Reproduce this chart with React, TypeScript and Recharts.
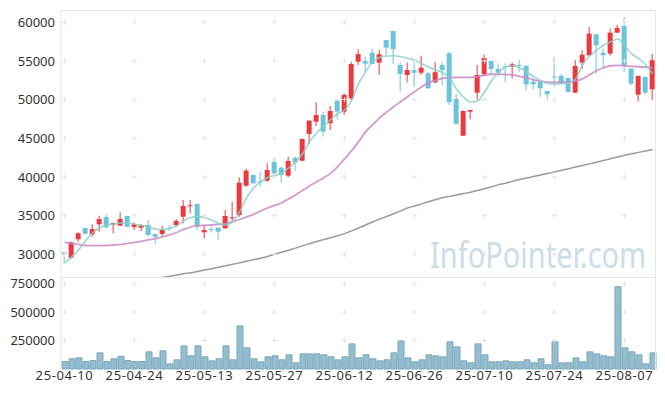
import React from "react"
import { ComposedChart, Bar, Line, XAxis, YAxis, ReferenceDot } from "recharts"

// trading days (KRX), 25-04-10 .. 25-08-13
const dates = [
  "25-04-10", "25-04-11", "25-04-14", "25-04-15", "25-04-16", "25-04-17", "25-04-18", "25-04-21", "25-04-22", "25-04-23",
  "25-04-24", "25-04-25", "25-04-28", "25-04-29", "25-04-30", "25-05-02", "25-05-07", "25-05-08", "25-05-09", "25-05-12",
  "25-05-13", "25-05-14", "25-05-15", "25-05-16", "25-05-19", "25-05-20", "25-05-21", "25-05-22", "25-05-23", "25-05-26",
  "25-05-27", "25-05-28", "25-05-29", "25-05-30", "25-06-02", "25-06-04", "25-06-05", "25-06-09", "25-06-10", "25-06-11",
  "25-06-12", "25-06-13", "25-06-16", "25-06-17", "25-06-18", "25-06-19", "25-06-20", "25-06-23", "25-06-24", "25-06-25",
  "25-06-26", "25-06-27", "25-06-30", "25-07-01", "25-07-02", "25-07-03", "25-07-04", "25-07-07", "25-07-08", "25-07-09",
  "25-07-10", "25-07-11", "25-07-14", "25-07-15", "25-07-16", "25-07-17", "25-07-18", "25-07-21", "25-07-22", "25-07-23",
  "25-07-24", "25-07-25", "25-07-28", "25-07-29", "25-07-30", "25-07-31", "25-08-01", "25-08-04", "25-08-05", "25-08-06",
  "25-08-07", "25-08-08", "25-08-11", "25-08-12", "25-08-13",
]

const opens = [
  30250, 29560, 31950, 33400, 32590, 33880, 34820, 33830, 33700, 34950,
  33530, 33440, 33790, 32630, 32630, 33400, 33790, 34860, 36300, 36500,
  32850, 33250, 33440, 33360, 34750, 35080, 38870, 40260, 39420, 39520,
  41940, 41200, 40170, 42490, 42100, 45560, 47150, 48010, 46940, 49860,
  48440, 50170, 54900, 55000, 56070, 54780, 57710, 58880, 54480, 53190,
  53830, 53480, 53400, 52240, 54480, 55990, 50080, 45340, 48440, 50900,
  53280, 55000, 53960, 54300, 54260, 54500, 54390, 52320, 52320, 51120,
  52990, 53060, 52800, 50900, 54780, 55730, 58450, 56070, 55940, 58660,
  59520, 54000, 50640, 52930, 51340,
]
const highs = [
  30260, 31650, 32850, 33420, 33880, 34990, 35170, 34100, 35430, 34980,
  34140, 33900, 34440, 32650, 33660, 33750, 34570, 37020, 37020, 36550,
  33660, 33570, 33460, 35730, 36800, 39960, 41070, 40300, 40680, 41770,
  42420, 41300, 42620, 42600, 45000, 47350, 49660, 48440, 49180, 49950,
  50820, 54910, 56510, 55550, 56550, 56420, 57750, 58910, 54830, 54830,
  54830, 55680, 53610, 54830, 54830, 56200, 50730, 48600, 48700, 54480,
  55810, 55020, 54700, 54700, 54780, 55130, 54400, 52760, 52330, 51130,
  55500, 53350, 52810, 55090, 56380, 59390, 58460, 56590, 59170, 59690,
  60690, 54050, 53100, 53000, 55940,
]
const lows = [
  28850, 29450, 31630, 32550, 32280, 32930, 33360, 32720, 33650, 33500,
  33140, 33010, 32280, 31300, 32280, 33010, 33660, 34010, 35300, 33140,
  32070, 32800, 31850, 33300, 34220, 34860, 38740, 39100, 38740, 39390,
  39960, 39260, 39960, 40810, 42050, 44260, 46590, 45210, 46070, 47460,
  48010, 49950, 54480, 53610, 54600, 53190, 55550, 54570, 51030, 52240,
  51670, 53190, 51400, 52110, 51890, 49310, 46800, 45300, 47460, 50000,
  53060, 53190, 53060, 52240, 52760, 53610, 51250, 51340, 50380, 50040,
  51700, 52060, 50900, 50850, 54000, 55700, 53350, 54090, 55700, 58650,
  53570, 51900, 49790, 50640, 49920,
]
const closes = [
  30050, 31550, 32720, 32670, 33270, 34570, 33490, 34050, 34570, 33570,
  33880, 33790, 32500, 32240, 33140, 33360, 34310, 36250, 36340, 33570,
  33140, 33200, 32930, 34950, 34790, 39260, 40810, 39180, 39380, 40900,
  40480, 40260, 42070, 41850, 44910, 47280, 48010, 45860, 48530, 48440,
  50600, 54610, 55900, 54650, 54610, 55860, 56720, 56510, 53320, 53830,
  53480, 54130, 51470, 53540, 53830, 49660, 46850, 48530, 48660, 53190,
  55380, 53960, 53480, 54250, 54570, 54450, 51980, 51980, 51470, 50690,
  52960, 52190, 50990, 54350, 55810, 58530, 57030, 55730, 58660, 59260,
  54440, 52060, 53060, 50900, 55090,
]
const volumes = [
  65800, 89500, 98200, 65800, 74600, 142000, 65800, 89500, 112300, 74600,
  65800, 65800, 150900, 98200, 159600, 45600, 80700, 203500, 115800, 203500,
  107000, 71900, 89500, 203500, 80700, 379000, 186000, 89500, 63200, 107000,
  115800, 80700, 124600, 54400, 133300, 133300, 133300, 124600, 107000, 80700,
  107000, 221000, 98200, 124600, 89500, 71900, 80700, 142000, 247000, 98200,
  63200, 80700, 124600, 115800, 107000, 238600, 194700, 71900, 54400, 221000,
  124600, 63200, 63200, 71900, 63200, 63200, 80700, 54400, 89500, 36800,
  238600, 54400, 54400, 98200, 63200, 150900, 133300, 115800, 107000, 723700,
  186000, 150900, 124600, 45600, 142000,
]
const ma5 = [
  28870, 29650, 30550, 31720, 32750, 33400, 33790, 33920, 34050, 34050,
  33920, 33720, 33530, 33270, 33200, 33340, 33660, 34310, 34760, 34870,
  34760, 34440, 34010, 33790, 34180, 35470, 37280, 38570, 39350, 39930,
  40190, 40450, 41160, 41940, 42970, 44530, 45690, 46590, 47370, 48140,
  48660, 49830, 52030, 53570, 54870, 55450, 55640, 55680, 55580, 55320,
  55120, 54670, 54220, 53830, 53510, 52800, 51370, 50340, 49700, 49830,
  50990, 52410, 53570, 54220, 54390, 54150, 53570, 52990, 52470, 52090,
  52020, 52060, 52190, 52670, 54480, 55640, 56380, 57030, 57450, 57840,
  57070, 55940, 55320, 54540, 53350,
]
const ma20 = [
  31550, 31400, 31270, 31140, 31110, 31110, 31140, 31200, 31270, 31400,
  31530, 31680, 31850, 32040, 32240, 32500, 32820, 33210, 33530, 33700,
  33750, 33790, 33860, 33980, 34180, 34500, 34830, 35150, 35600, 35990,
  36320, 36640, 37160, 37680, 38260, 38840, 39360, 39880, 40460, 41300,
  42340, 43370, 44540, 45830, 46740, 47640, 48360, 49070, 49720, 50360,
  51010, 51650, 52170, 52500, 52760, 52850, 52890, 52890, 52890, 52950,
  53150, 53280, 53300, 53250, 53190, 53020, 52830, 52570, 52400, 52270,
  52240, 52240, 52280, 52430, 52690, 53210, 53730, 54120, 54380, 54440,
  54380, 54310, 54250, 54190, 54120,
]
const ma120 = [
  24870, 25025, 25180, 25335, 25490, 25645, 25800, 25955, 26110, 26265,
  26420, 26560, 26715, 26860, 27015, 27170, 27310, 27470, 27610, 27780,
  27960, 28140, 28330, 28510, 28700, 28890, 29100, 29300, 29500, 29720,
  29990, 30260, 30530, 30800, 31090, 31370, 31650, 31900, 32150, 32390,
  32670, 33030, 33400, 33790, 34180, 34540, 34890, 35250, 35610, 35980,
  36250, 36520, 36790, 37060, 37310, 37490, 37670, 37850, 38030, 38240,
  38480, 38730, 38980, 39200, 39430, 39660, 39870, 40060, 40260, 40450,
  40660, 40870, 41070, 41280, 41480, 41690, 41910, 42130, 42360, 42580,
  42800, 43000, 43180, 43370, 43550,
]

const tickDates = ["25-04-10", "25-04-24", "25-05-13", "25-05-27", "25-06-12", "25-06-26", "25-07-10", "25-07-24", "25-08-07"]
const priceTicks = [30000, 35000, 40000, 45000, 50000, 55000, 60000]
const volumeTicks = [250000, 500000, 750000]

const rows = dates.map((date, i) => ({
  date,
  open: opens[i],
  high: highs[i],
  low: lows[i],
  close: closes[i],
  range: [lows[i], highs[i]],
  volume: volumes[i],
  ma5: ma5[i],
  ma20: ma20[i],
  ma120: ma120[i],
}))

const UP = "#ea3a3f"
const DOWN = "#6cc3da"
const FONT = "'Noto Sans', sans-serif"
const yTick = { fill: "#333", fontSize: 13, fontFamily: FONT }
const xTick = { fill: "#333", fontSize: 13, fontFamily: FONT, letterSpacing: 0.6 }

function Candle(props: any) {
  const { x, y, width, height, payload } = props
  const { open, close, high, low } = payload
  const color = close >= open ? UP : DOWN
  const k = height / (high - low || 1)
  const cx = x + width / 2
  const top = y + (high - Math.max(open, close)) * k
  const bottom = y + (high - Math.min(open, close)) * k
  return (
    <g>
      <line x1={cx} x2={cx} y1={y} y2={y + height} stroke={color} strokeWidth={1} />
      <rect x={cx - 2.5} y={top} width={5} height={Math.max(1, bottom - top)} fill={color} />
    </g>
  )
}

const Plus = (props: any) => {
  const { cx, cy } = props
  return <path d={`M${cx - 2.5},${cy}H${cx + 2.5}M${cx},${cy - 2.5}V${cy + 2.5}`} stroke="#e4e4e4" strokeWidth={1} fill="none" />
}

export default function App() {
  return (
    <div style={{ position: "absolute", left: 0, top: 0, width: 665, height: 396, background: "#fff" }}>
      {/* watermark, behind the chart */}
      <svg width={665} height={396} style={{ position: "absolute", left: 0, top: 0 }}>
        <text transform="translate(430,268) scale(1,1.25)" fontSize={29} fontFamily={FONT} fill="#cbdde7">
          InfoPointer.com
        </text>
      </svg>

      <div style={{ position: "absolute", left: 0, top: 0 }}>
        <ComposedChart width={665} height={278} data={rows} margin={{ top: 10, right: 9, bottom: 0, left: 0 }}>
          <XAxis dataKey="date" hide />
          <YAxis
            domain={[26935, 61590]}
            ticks={priceTicks}
            allowDataOverflow
            interval={0}
            width={61}
            tickLine={false}
            axisLine={{ stroke: "#e3e3e3" }}
            tickSize={0}
            tickMargin={6}
            tick={yTick}
          />
          {tickDates.map((d) =>
            priceTicks.map((p) => <ReferenceDot key={d + p} x={d} y={p} shape={Plus} />),
          )}
          <Bar dataKey="range" shape={Candle} barSize={7} isAnimationActive={false} />
          <Line type="monotone" dataKey="ma120" stroke="#9a9a9a" strokeWidth={1.5} dot={false} isAnimationActive={false} />
          <Line type="monotone" dataKey="ma20" stroke="#c98ac4" strokeWidth={1.8} strokeOpacity={0.85} dot={false} isAnimationActive={false} />
          <Line type="monotone" dataKey="ma5" stroke="#8ccfc4" strokeWidth={1.6} strokeOpacity={0.85} dot={false} isAnimationActive={false} />
        </ComposedChart>
      </div>

      <div style={{ position: "absolute", left: 0, top: 268 }}>
        <ComposedChart width={665} height={128} data={rows} margin={{ top: 10, right: 9, bottom: 0, left: 0 }}>
          <XAxis
            dataKey="date"
            ticks={tickDates}
            interval={0}
            height={27}
            tickLine={false}
            axisLine={false}
            tickSize={0}
            tickMargin={2}
            tick={xTick}
          />
          <YAxis
            domain={[0, 800000]}
            ticks={volumeTicks}
            interval={0}
            width={61}
            tickLine={false}
            axisLine={{ stroke: "#e3e3e3" }}
            tickSize={0}
            tickMargin={6}
            tick={yTick}
          />
          {tickDates.map((d) =>
            volumeTicks.map((v) => <ReferenceDot key={d + v} x={d} y={v} shape={Plus} />),
          )}
          <Bar dataKey="volume" fill="#96bdce" stroke="#78a7bd" strokeWidth={1} barSize={6} isAnimationActive={false} />
        </ComposedChart>
      </div>

      {/* frame lines: top, right, panel separator */}
      <div style={{ position: "absolute", left: 61, top: 10, width: 595, height: 359, borderTop: "1px solid #e6e6e6", borderRight: "1px solid #e6e6e6", boxSizing: "border-box", pointerEvents: "none" }} />
      <div style={{ position: "absolute", left: 61, top: 277, width: 595, height: 1, background: "#e6e6e6", pointerEvents: "none" }} />
    </div>
  )
}
